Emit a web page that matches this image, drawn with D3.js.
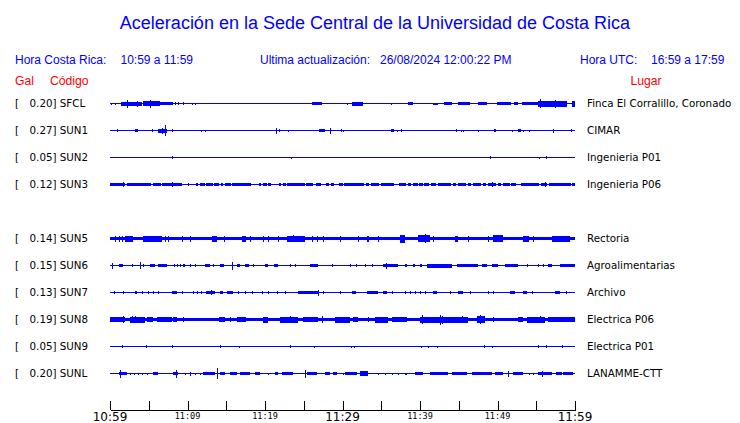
<!DOCTYPE html>
<html><head><meta charset="utf-8">
<script src="https://cdn.jsdelivr.net/npm/d3@7"></script>
<style>body{margin:0;background:#fff}svg{display:block}</style>
</head><body>
<script>
// ---------- data ----------
const rowSlots = ["SFCL","SUN1","SUN2","SUN3","SUN4","SUN5","SUN6","SUN7","SUN8","SUN9","SUNL"];
const stationCodes = ["SFCL","SUN1","SUN2","SUN3","SUN5","SUN6","SUN7","SUN8","SUN9","SUNL"];
const peakGal = [0.20,0.27,0.05,0.12,0.14,0.15,0.13,0.19,0.05,0.20];
const places = ["Finca El Corralillo, Coronado","CIMAR","Ingenieria P01","Ingenieria P06","Rectoria","Agroalimentarias","Archivo","Electrica P06","Electrica P01","LANAMME-CTT"];
const tickMinutes = [0,5,10,15,20,25,30,35,40,45,50,55,60];
const labelMinutes = [0,10,20,30,40,50,60];
const tickLabels = ["10:59","11:09","11:19","11:29","11:39","11:49","11:59"];
const majorLabels = ["10:59","11:29","11:59"];

// bursts: [start minute, end minute, amplitude] (minutes after 10:59)
const burstsSFCL = [[0.1,0.1,1],[0.6,0.6,1],[1.4,4.1,2],[2.2,2.2,4],[3.5,3.5,3],[4.3,6.5,2.5],[6.5,8.1,1.8],[5.2,5.2,4],
 [8.4,8.4,1.5],[8.8,8.8,1.5],[9.4,9.4,1.5],[10.6,10.6,1],[11.0,11.0,1],[26.1,27.4,1.5],[30.6,30.6,1],[31.2,32.6,2],
 [36.3,36.3,1],[38.5,39.1,1.5],[41.7,42.3,1],[43.1,44.1,1.5],[44.9,46.5,1.5],[47.5,48.6,1.5],[49.9,51.7,1.5],
 [52.1,52.6,1.5],[53.2,55.2,1.5],[55.2,59.0,3],[55.5,55.5,4.5],[57.4,57.4,4],[59.6,60,3]];
const burstsSUN1 = [[0.9,0.9,1.5],[3.2,3.6,1.5],[5.4,5.4,1.5],[6.2,7.3,2],[6.7,6.7,3],[7.1,7.1,5.5],[8.0,8.0,1.5],
 [11.8,11.8,1],[12.3,12.3,1],[21.4,21.4,3],[21.8,21.8,1.5],[23.0,23.0,1],[27.0,27.7,1.5],[28.4,28.4,3],[29.8,29.8,1.5],
 [30.1,30.1,1],[36.2,36.6,1.5],[37.0,37.0,1],[37.6,37.6,1.5],[44.6,44.6,1.5],[45.3,45.3,1],[45.5,45.5,1],[47.5,47.5,1],
 [49.5,49.8,1.5],[51.9,51.9,1],[52.7,53.0,1.5],[53.3,53.3,1],[54.1,54.1,1],[57.2,57.2,2],[59.5,59.5,1.5]];
const burstsSUN2 = [[8.0,8.0,1.5],[23.3,23.3,1],[49.0,49.2,1.5],[55.3,55.3,1],[56.2,56.2,1.5]];
const burstsSUN3 = [[0,1.9,1.7],[2.15,5.3,1.7],[5.5,6.6,1.7],[6.75,9.3,1.7],[10.0,10.2,1.7],[11.05,11.4,1.7],[11.6,12.2,1.7],
 [12.4,13.25,1.7],[13.45,14.1,1.7],[14.3,14.55,1.7],[14.9,15.6,1.7],[15.8,18.2,1.7],[19.2,19.5,1.7],[19.7,20.2,1.7],
 [20.4,20.8,1.7],[21.8,22.05,1.7],[22.3,22.7,1.7],[22.9,25.1,1.7],[25.3,26.25,1.7],[26.55,27.25,1.7],[27.85,28.3,1.7],
 [28.5,28.95,1.7],[29.55,30.0,1.7],[30.25,32.8,1.7],[33.0,33.45,1.7],[33.7,34.75,1.7],[34.95,36.7,1.7],[37.3,38.2,1.7],
 [38.4,38.85,1.7],[39.05,39.7,1.7],[39.9,40.35,1.7],[40.55,41.2,1.7],[41.4,42.05,1.7],[42.3,44.0,1.7],[44.2,44.65,1.7],
 [44.85,45.95,1.7],[46.15,46.6,1.7],[46.8,47.85,1.7],[48.1,48.5,1.7],[48.75,49.8,1.7],[50.0,50.45,1.7],[50.65,51.55,1.7],
 [51.75,52.4,1.7],[53.0,55.4,1.7],[55.6,56.45,1.7],[56.7,59.5,1.7],[59.65,60,1.7],
 [1.7,1.7,2.2],[8.0,8.0,2.5],[49.25,49.25,2.5],[56.1,56.1,2.5]];
const burstsSUN5 = [[0,60,1.8],[0.65,0.65,3],[1.1,1.1,3],[1.5,1.5,3],[1.95,3.0,3],[4.3,6.7,3],[7.1,7.1,3],[7.5,7.5,3],
 [9.25,9.25,3],[10.3,10.3,3],[13.1,13.75,3],[14.75,14.75,3],[17.0,17.6,3],[18.0,18.0,3],[19.8,19.8,3],[20.4,20.4,3],
 [21.7,21.7,3],[22.8,25.15,3],[23.65,23.65,3.5],[26.0,26.0,3],[26.7,26.7,3],[27.5,27.5,3],[29.7,29.7,3],[32.0,32.0,3],
 [33.1,33.1,3],[33.3,33.3,3],[34.6,34.6,3],[37.4,38.05,4],[39.8,41.3,3.5],[40.65,40.65,4.5],[41.7,41.7,3],[44.5,44.95,3],
 [46.25,46.25,3],[48.8,48.8,3],[49.45,50.75,3.5],[53.3,54.0,3],[54.6,54.6,3],[57.0,59.35,3]];
const burstsSUN6 = [[0.2,0.2,3],[1.1,1.7,1.5],[2.8,2.8,1.2],[3.9,3.9,3.5],[4.3,4.3,1.5],[5.15,5.8,1.5],[6.25,7.3,1.5],
 [8.2,8.2,1.2],[8.6,8.6,1.2],[9.0,9.0,1.2],[9.45,9.7,1.5],[10.3,10.3,1.2],[11.0,11.0,1.2],[12.25,12.9,1.5],[13.3,13.3,1.2],
 [14.2,14.75,1.5],[15.7,15.7,4],[16.35,16.75,1.5],[17.4,17.95,1.5],[18.5,18.5,1.2],[20.0,20.45,1.5],[21.1,21.7,1.5],
 [23.2,23.2,1.2],[23.9,23.9,1.2],[25.8,26.9,1.5],[28.6,28.6,1.2],[31.0,31.0,1.2],[31.8,31.8,1.2],[32.9,32.9,1.2],
 [33.75,33.75,1.2],[35.25,37.2,1.5],[35.6,35.6,3],[38.05,38.3,1.2],[39.15,39.35,1.2],[40.0,40.2,1.2],[40.85,44.1,2],
 [44.75,47.5,1.8],[47.95,48.6,1.5],[49.25,50.1,1.5],[50.95,52.7,1.6],[53.75,53.75,1.2],[55.25,55.25,1.2],[55.9,55.9,1.2],
 [56.55,57.0,1.5],[58.05,60,1.8]];
const burstsSUN7 = [[0.55,0.55,1.5],[1.7,1.7,1.5],[3.2,3.45,1.5],[4.1,4.1,1.5],[4.95,4.95,1.5],[5.6,5.6,1.5],[6.25,6.25,1.5],
 [7.95,8.6,1.5],[9.25,9.25,1.5],[10.75,10.75,1.2],[11.2,11.2,1.2],[11.8,11.8,1.2],[12.45,13.55,1.5],[13.0,13.0,2.5],
 [14.2,14.6,1.5],[15.05,15.9,1.5],[16.5,16.5,1.2],[17.4,17.4,1.2],[18.3,18.3,1.2],[19.55,19.55,1.2],[20.45,20.45,1.2],
 [21.5,21.5,1.2],[22.6,22.6,1.2],[24.3,26.9,1.8],[26.9,26.9,3],[27.5,27.5,1.5],[29.7,29.7,1.5],[31.2,31.8,1.5],
 [33.1,34.6,1.4],[35.25,35.7,1.5],[36.35,36.35,1.2],[38.05,38.05,1.2],[38.7,38.7,1.2],[39.35,39.35,1.2],[40.0,40.0,1.2],
 [40.65,40.65,1.2],[41.7,42.15,1.5],[43.85,43.85,1.2],[44.95,45.6,1.5],[46.45,46.45,1.2],[48.8,48.8,1.2],[49.45,49.45,1.2],
 [51.6,52.25,1.5],[53.3,53.75,1.5],[54.4,54.4,1.2],[57.4,58.05,1.5],[58.9,58.9,1.2]];
const burstsSUN8 = [[0,60,1.8],[0,1.95,2.5],[1.7,1.7,3.5],[2.6,4.5,3],[2.8,2.8,3.5],[3.2,3.2,3.5],[4.75,5.6,2.5],[6.0,7.95,2.5],
 [8.15,8.6,2.5],[9.45,9.45,2.5],[14.0,14.85,2.5],[15.5,15.5,2.5],[16.35,17.6,2.5],[19.8,20.45,3],[21.95,24.3,3],
 [23.2,23.2,3.5],[24.95,26.9,2.5],[27.3,27.3,3.5],[29.05,30.95,3],[31.4,32.05,2.5],[33.3,33.3,2.5],[34.2,35.9,3],
 [36.35,38.3,2.5],[40.0,46.25,3],[40.2,40.2,4.5],[42.6,42.6,5],[42.8,42.8,4],[45.4,45.4,3.5],[47.3,48.4,3.5],
 [47.75,47.75,4.5],[49.45,49.45,2.5],[52.7,53.3,2.5],[53.75,56.1,3],[55.5,55.5,3.5],[56.55,60,2.5]];
const burstsSUN9 = [[1.6,1.6,1.5],[4.65,4.65,1.5],[7.95,8.15,1.5],[14.2,14.2,1.5],[16.7,16.7,1],[23.2,23.2,1.5],[26.35,26.35,1],
 [31.05,31.05,1],[31.5,31.5,1],[40.15,40.15,1],[41.0,41.0,1],[42.25,42.25,1],[48.25,48.25,1.5],[49.25,49.25,1],
 [55.25,55.25,1.5],[56.25,56.25,1.5],[58.35,58.35,1.5]];
const burstsSUNL = [[1.1,2.15,1.5],[1.3,1.3,4],[2.6,2.6,1],[3.15,3.15,1],[3.65,3.65,1],[4.15,4.15,1],[4.75,4.75,1],
 [5.6,6.25,1.5],[8.15,8.8,1.5],[8.5,8.5,4],[9.7,9.7,1],[10.3,10.3,2],[11.0,11.0,1],[11.6,11.6,1],[12.05,13.55,1.5],
 [13.75,13.75,5.5],[14.2,14.85,1.5],[15.5,16.35,1.5],[16.75,18.05,1.5],[18.7,19.35,1.2],[20.45,20.45,1],[21.3,21.7,1.2],
 [22.15,23.65,1.5],[25.15,25.15,4],[25.4,26.65,1.5],[27.75,28.4,1.5],[28.8,29.25,1.2],[30.0,30.0,1],[30.3,31.85,1.5],
 [32.25,33.35,2.5],[34.6,34.6,1],[35.5,35.5,1],[36.35,36.35,1],[37.2,37.2,1],[38.05,38.3,1],[39.35,40.45,1.5],
 [41.3,43.65,1.5],[44.1,46.0,1.5],[46.65,49.25,1.5],[49.7,50.75,1.5],[51.4,51.4,3],[52.05,53.35,1.5],[54.0,54.0,1],
 [54.6,54.6,1],[55.25,57.0,1.5],[55.7,55.7,3],[57.6,58.3,1.5],[58.5,59.8,1.5]];
const stationBursts = [burstsSFCL,burstsSUN1,burstsSUN2,burstsSUN3,burstsSUN5,burstsSUN6,burstsSUN7,burstsSUN8,burstsSUN9,burstsSUNL];

// ---------- drawing ----------
const W = 740, H = 423;
const blue = "#0000ff", red = "#ff0000";
const svg = d3.select("body").append("svg").attr("width", W).attr("height", H);
svg.append("rect").attr("width", W).attr("height", H).attr("fill", "#fff");

const x = d3.scaleLinear().domain([0, 60]).range([110, 575]);
const row = d3.scalePoint().domain(rowSlots).range([103.5, 373.5]);
const amp = d3.scaleLinear().domain([0, 10]).range([0, 10]);

const sans = "'Liberation Sans', Arial, sans-serif";
const dv = "'DejaVu Sans', sans-serif";

svg.append("text").attr("x", 375).attr("y", 29).attr("text-anchor", "middle")
  .attr("font-family", sans).attr("font-size", 18).attr("fill", blue)
  .text("Aceleración en la Sede Central de la Universidad de Costa Rica");

const hdr = [["Hora Costa Rica:", 15], ["10:59 a 11:59", 120.5], ["Ultima actualización:", 260], ["26/08/2024 12:00:22 PM", 380],
  ["Hora UTC:", 580], ["16:59 a 17:59", 651]];
svg.selectAll("text.hdr").data(hdr).join("text").attr("class", "hdr")
  .attr("x", d => d[1]).attr("y", 64).attr("font-family", sans).attr("font-size", 12).attr("fill", blue)
  .text(d => d[0]);
const hdr2 = [["Gal", 15], ["Código", 50], ["Lugar", 630.5]];
svg.selectAll("text.hdr2").data(hdr2).join("text").attr("class", "hdr2")
  .attr("x", d => d[1]).attr("y", 84.5).attr("font-family", sans).attr("font-size", 12.2).attr("fill", red)
  .text(d => d[0]);

const g = svg.append("g");
stationCodes.forEach((code, i) => {
  const y0 = row(code);
  const gs = g.append("g").attr("shape-rendering", "crispEdges");
  gs.append("line").attr("x1", x(0)).attr("x2", x(60)).attr("y1", y0).attr("y2", y0)
    .attr("stroke", blue).attr("stroke-width", 1.3);
  gs.selectAll("rect").data(stationBursts[i]).join("rect")
    .attr("x", d => x(d[0]))
    .attr("width", d => Math.max(1, x(d[1]) - x(d[0])))
    .attr("y", d => y0 - amp(d[2]))
    .attr("height", d => 2 * amp(d[2]))
    .attr("fill", blue);
  g.append("text").attr("x", 15).attr("y", y0 + 3.8).attr("font-family", dv).attr("font-size", 10.3).attr("fill", "#000").text("[");
  g.append("text").attr("x", 52.5).attr("y", y0 + 3.8).attr("text-anchor", "end").attr("font-family", dv).attr("font-size", 10.3)
    .attr("fill", "#000").text(peakGal[i].toFixed(2));
  g.append("text").attr("x", 52.5).attr("y", y0 + 3.8).attr("font-family", dv).attr("font-size", 10.3)
    .attr("fill", "#000").text("] " + code);
  g.append("text").attr("x", 587).attr("y", y0 + 3.8).attr("font-family", dv).attr("font-size", 10.3)
    .attr("fill", "#000").text(places[i]);
});

// axis
const axisY = 409.5;
const axis = d3.axisTop(x).tickValues(tickMinutes).tickSize(9).tickSizeOuter(0).tickFormat("");
const ag = svg.append("g").attr("transform", `translate(0,${axisY})`).attr("shape-rendering", "crispEdges").call(axis);
ag.select(".domain").attr("stroke", "#000");
ag.selectAll(".tick line").attr("stroke", "#000");

svg.selectAll("text.tl").data(labelMinutes).join("text").attr("class", "tl")
  .attr("x", d => x(d)).attr("text-anchor", "middle")
  .attr("y", (d, i) => majorLabels.includes(tickLabels[i]) ? 421 : 419)
  .attr("font-family", (d, i) => majorLabels.includes(tickLabels[i]) ? dv : "'DejaVu Sans Mono', monospace")
  .attr("font-size", (d, i) => majorLabels.includes(tickLabels[i]) ? 12 : 8.5)
  .attr("fill", "#000")
  .text((d, i) => tickLabels[i]);
</script>
</body></html>
